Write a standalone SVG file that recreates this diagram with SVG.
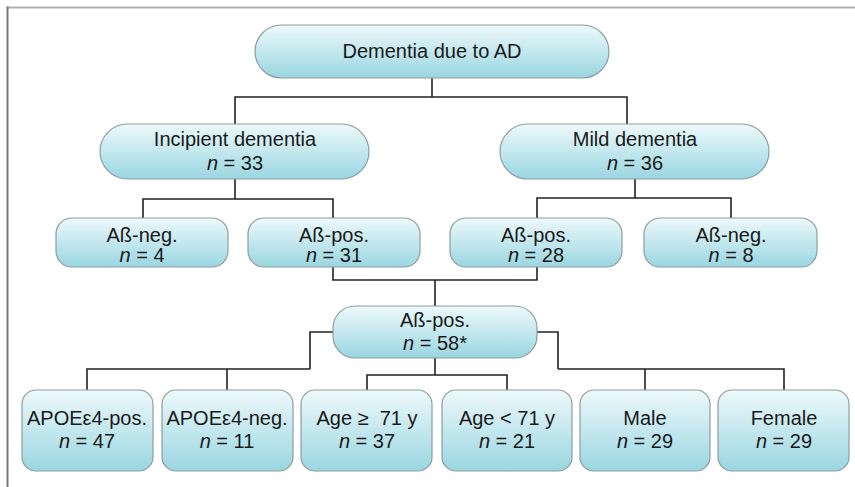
<svg xmlns="http://www.w3.org/2000/svg" width="855" height="487" viewBox="0 0 855 487">
<style>
.node{fill:url(#g);stroke:#8d9da1;stroke-width:1.2}
.t{font-family:"Liberation Sans",Arial,sans-serif;font-size:20px;fill:#1a1a1a;text-anchor:middle}
.c{fill:none;stroke:#222;stroke-width:1.6}
</style>
<defs>
<linearGradient id="g" x1="0" y1="0" x2="0" y2="1">
<stop offset="0" stop-color="#eef9fb"/>
<stop offset="0.55" stop-color="#bfe6ed"/>
<stop offset="1" stop-color="#9ad6e1"/>
</linearGradient>
</defs>
<rect width="855" height="487" fill="#fff"/>
<line x1="7" y1="7.5" x2="855" y2="7.5" stroke="#b0b0b0" stroke-width="2"/>
<line x1="7.5" y1="6.5" x2="7.5" y2="487" stroke="#7a7a7a" stroke-width="2"/>
<g id="connectors">
<path class="c" d="M432,78V97M235,124V97H627V124"/>
<path class="c" d="M235,179V199M143,218V199H333V218"/>
<path class="c" d="M635,179V198M537,218V198H731V218"/>
<path class="c" d="M333,267V280H537V267M435,280V306"/>
<path class="c" d="M333,332H310V369M87,390V369H310M227,369V390"/>
<path class="c" d="M435,358V375M367,390V375H507V390"/>
<path class="c" d="M537,332H558V369M558,369H784V390M645,369V390"/>
</g>
<g id="n-root"><rect class="node" x="255" y="25" width="354" height="53" rx="26.5"/><text class="t" x="432" y="58">Dementia due to AD</text></g>
<g id="n-incipient"><rect class="node" x="100" y="124" width="269" height="55" rx="27.5"/><text class="t" x="235" y="146">Incipient dementia</text><text class="t" x="235" y="170"><tspan font-style="italic">n</tspan> = 33</text></g>
<g id="n-mild"><rect class="node" x="500" y="124" width="269" height="55" rx="27.5"/><text class="t" x="635" y="146">Mild dementia</text><text class="t" x="635" y="170"><tspan font-style="italic">n</tspan> = 36</text></g>
<g id="n-inc-neg"><rect class="node" x="56" y="218" width="172" height="49" rx="16"/><text class="t" x="142" y="242">Aß-neg.</text><text class="t" x="142" y="262"><tspan font-style="italic">n</tspan> = 4</text></g>
<g id="n-inc-pos"><rect class="node" x="248" y="218" width="172" height="49" rx="16"/><text class="t" x="334" y="242">Aß-pos.</text><text class="t" x="334" y="262"><tspan font-style="italic">n</tspan> = 31</text></g>
<g id="n-mild-pos"><rect class="node" x="450" y="218" width="172" height="49" rx="16"/><text class="t" x="536" y="242">Aß-pos.</text><text class="t" x="536" y="262"><tspan font-style="italic">n</tspan> = 28</text></g>
<g id="n-mild-neg"><rect class="node" x="644" y="218" width="173" height="49" rx="16"/><text class="t" x="731" y="242">Aß-neg.</text><text class="t" x="731" y="262"><tspan font-style="italic">n</tspan> = 8</text></g>
<g id="n-pos58"><rect class="node" x="333" y="306" width="204" height="52" rx="22"/><text class="t" x="435" y="327">Aß-pos.</text><text class="t" x="435" y="350"><tspan font-style="italic">n</tspan> = 58*</text></g>
<g id="n-apoe-pos"><rect class="node" x="22" y="390" width="131" height="81" rx="14"/><text class="t" x="87" y="425">APOEε4-pos.</text><text class="t" x="87" y="448"><tspan font-style="italic">n</tspan> = 47</text></g>
<g id="n-apoe-neg"><rect class="node" x="162" y="390" width="131" height="81" rx="14"/><text class="t" x="227" y="425">APOEε4-neg.</text><text class="t" x="227" y="448"><tspan font-style="italic">n</tspan> = 11</text></g>
<g id="n-age-ge"><rect class="node" x="301" y="390" width="131" height="81" rx="14"/><text class="t" x="367" y="425">Age ≥&#160; 71 y</text><text class="t" x="367" y="448"><tspan font-style="italic">n</tspan> = 37</text></g>
<g id="n-age-lt"><rect class="node" x="442" y="390" width="130" height="81" rx="14"/><text class="t" x="507" y="425">Age &lt; 71 y</text><text class="t" x="507" y="448"><tspan font-style="italic">n</tspan> = 21</text></g>
<g id="n-male"><rect class="node" x="580" y="390" width="130" height="81" rx="14"/><text class="t" x="645" y="425">Male</text><text class="t" x="645" y="448"><tspan font-style="italic">n</tspan> = 29</text></g>
<g id="n-female"><rect class="node" x="718" y="390" width="131" height="81" rx="14"/><text class="t" x="784" y="425">Female</text><text class="t" x="784" y="448"><tspan font-style="italic">n</tspan> = 29</text></g>
</svg>
